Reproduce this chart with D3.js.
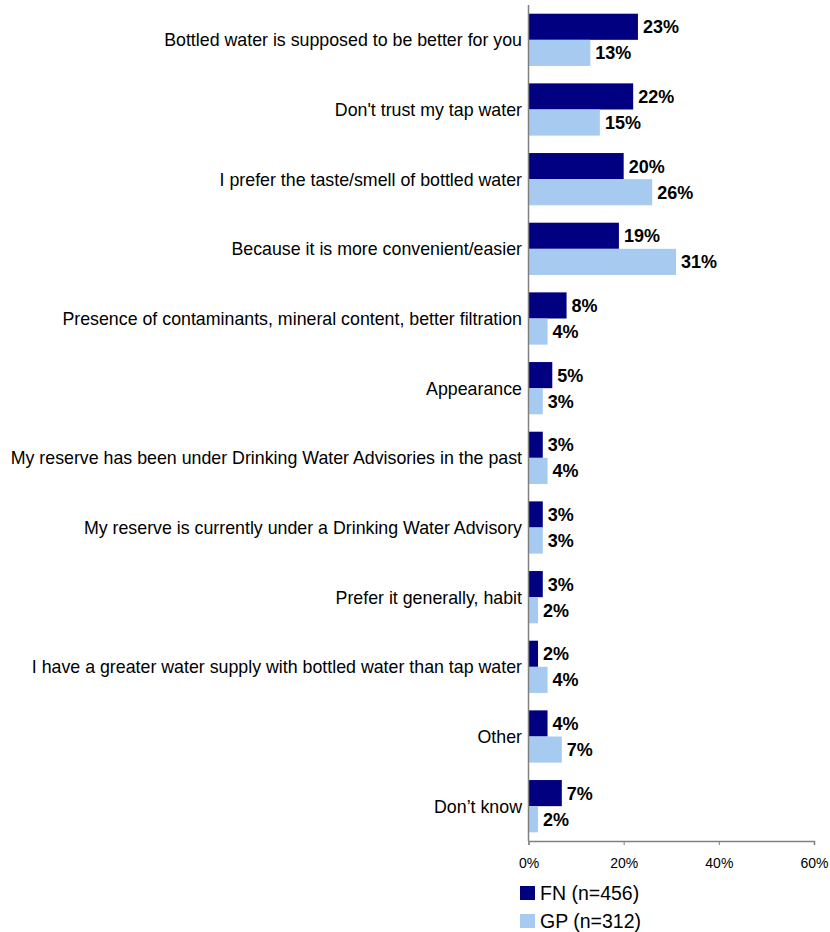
<!DOCTYPE html>
<html><head><meta charset="utf-8">
<script src="https://cdn.jsdelivr.net/npm/d3@7"></script>
<style>body{margin:0;background:#fff}svg{display:block}</style>
</head><body>
<script>
const categories = [
  "Bottled water is supposed to be better for you",
  "Don't trust my tap water",
  "I prefer the taste/smell of bottled water",
  "Because it is more convenient/easier",
  "Presence of contaminants, mineral content, better filtration",
  "Appearance",
  "My reserve has been under Drinking Water Advisories in the past",
  "My reserve is currently under a Drinking Water Advisory",
  "Prefer it generally, habit",
  "I have a greater water supply with bottled water than tap water",
  "Other",
  "Don\u2019t know"
];
const seriesNames = ["FN (n=456)", "GP (n=312)"];
const fnValues = [23, 22, 20, 19, 8, 5, 3, 3, 3, 2, 4, 7];
const gpValues = [13, 15, 26, 31, 4, 3, 4, 3, 2, 4, 7, 2];
const tickValues = [0, 20, 40, 60];
const colors = ["#000080", "#A6CAF0"];

const W = 830, H = 932;
const svg = d3.select("body").append("svg").attr("width", W).attr("height", H);
const font = "Liberation Sans, Arial, sans-serif";

const x = d3.scaleLinear().domain([0, 60]).range([528.5, 814]);
const y = d3.scaleBand().domain(categories).range([5, 841]).paddingInner(0.25).paddingOuter(0.125);
const sub = d3.scaleBand().domain([0, 1]).range([0, y.bandwidth()]);

const series = [fnValues, gpValues];
const g = svg.append("g");
series.forEach((vals, si) => {
  g.selectAll(".bar" + si).data(vals).join("rect")
    .attr("x", x(0))
    .attr("y", (d, i) => y(categories[i]) + sub(si))
    .attr("width", d => x(d) - x(0))
    .attr("height", sub.bandwidth())
    .attr("fill", colors[si]);
  g.selectAll(".lbl" + si).data(vals).join("text")
    .attr("x", d => x(d) + 5)
    .attr("y", (d, i) => y(categories[i]) + sub(si) + sub.bandwidth() / 2)
    .attr("dy", "0.36em")
    .attr("font-family", font).attr("font-weight", "bold").attr("font-size", 18)
    .attr("fill", "#000")
    .text(d => d + "%");
});

// category labels
svg.selectAll(".cat").data(categories).join("text")
  .attr("x", 522)
  .attr("y", d => y(d) + y.bandwidth() / 2)
  .attr("dy", "0.36em")
  .attr("text-anchor", "end")
  .attr("font-family", font).attr("font-size", 17.8)
  .attr("fill", "#000")
  .text(d => d);

// axes lines
svg.append("line").attr("x1", x(0)).attr("x2", x(0)).attr("y1", 5).attr("y2", 841)
  .attr("stroke", "#808080").attr("stroke-width", 1.5);
const xAxis = svg.append("g").attr("transform", "translate(0,841)")
  .call(d3.axisBottom(x).tickValues(tickValues).tickSize(4).tickFormat(d => d + "%"));
xAxis.select(".domain").attr("stroke", "#808080").attr("stroke-width", 1.5);
xAxis.selectAll(".tick line").attr("stroke", "#808080");
xAxis.selectAll(".tick text").attr("font-family", font).attr("font-size", 14)
  .attr("fill", "#000").attr("y", 22).attr("dy", "0.36em");

// legend
const leg = svg.append("g");
seriesNames.forEach((n, i) => {
  leg.append("rect").attr("x", 520).attr("y", 886 + i * 28).attr("width", 15).attr("height", 14).attr("fill", colors[i]);
  leg.append("text").attr("x", 540).attr("y", 893 + i * 28).attr("dy", "0.36em")
    .attr("font-family", font).attr("font-size", 19.5).attr("fill", "#000").text(n);
});
</script>
</body></html>
